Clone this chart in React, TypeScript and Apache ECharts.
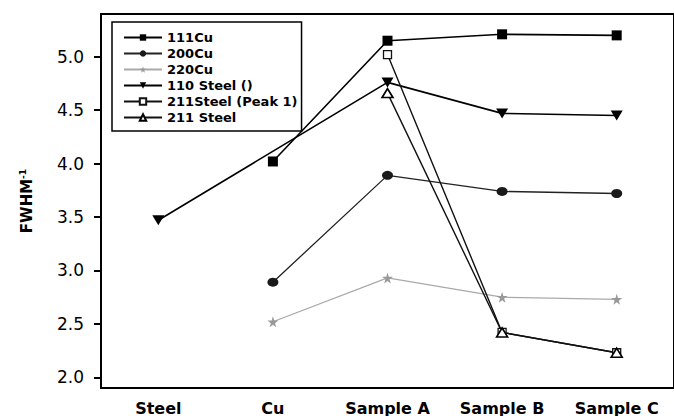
import React, { useEffect, useRef } from "react";
import * as echarts from "echarts";

const categories = ["Steel", "Cu", "Sample A", "Sample B", "Sample C"];
const cu111 = [null, 4.02, 5.15, 5.21, 5.2];
const cu200 = [null, 2.89, 3.89, 3.74, 3.72];
const cu220 = [null, 2.52, 2.93, 2.75, 2.73];
const steel110 = [3.47, null, 4.76, 4.47, 4.45];
const steel211Peak1 = [null, null, 5.02, 2.42, 2.23];
const steel211 = [null, null, 4.66, 2.42, 2.23];
const seriesNames = ["111Cu", "200Cu", "220Cu", "110 Steel ()", "211Steel (Peak 1)", "211 Steel"];
const yMajorTicks = [2.0, 2.5, 3.0, 3.5, 4.0, 4.5, 5.0];
const yMinorTicks = [2.25, 2.75, 3.25, 3.75, 4.25, 4.75, 5.25];

const STAR = "path://M50,0 L61,35 L98,35 L68,57 L79,91 L50,70 L21,91 L32,57 L2,35 L39,35 Z";
const FONT = "DejaVu Sans";

export default function App() {
  const ref = useRef<HTMLDivElement>(null);
  useEffect(() => {
    if (!ref.current) return;
    const chart = echarts.init(ref.current, null, { renderer: "svg" });
    const mk = (name: string, data: any[], o: any) => ({
      name,
      type: "line",
      data,
      connectNulls: true,
      xAxisIndex: 0,
      yAxisIndex: 0,
      ...o,
    });
    chart.setOption({
      animation: false,
      backgroundColor: "#fff",
      grid: {
        left: 101,
        top: 14,
        width: 576,
        height: 374,
        show: true,
        borderColor: "#000",
        borderWidth: 2,
        backgroundColor: "transparent",
      },
      legend: {
        orient: "vertical",
        left: 112,
        top: 22,
        padding: [9, 4, 7, 11],
        borderColor: "#000",
        borderWidth: 1.5,
        itemWidth: 38,
        itemHeight: 8,
        itemGap: 3,
        textStyle: { fontFamily: FONT, fontSize: 13, fontWeight: "bold", color: "#000", lineHeight: 13 },
        data: seriesNames,
      },
      xAxis: [
        {
          type: "category",
          data: categories,
          position: "bottom",
          axisLine: { lineStyle: { color: "#000", width: 2 } },
          axisTick: { alignWithLabel: true, length: 7, lineStyle: { color: "#000", width: 2 } },
          axisLabel: { fontFamily: FONT, fontSize: 16, fontWeight: "bold", color: "#000", margin: 12 },
        },
        {
          type: "category",
          data: categories,
          position: "bottom",
          axisLine: { show: false },
          axisTick: { alignWithLabel: false, length: 4, lineStyle: { color: "#000", width: 2 } },
          axisLabel: { show: false },
        },
      ],
      yAxis: [
        {
          type: "value",
          min: 1.9,
          max: 5.4,
          splitLine: { show: false },
          axisLine: { show: true, lineStyle: { color: "#000", width: 2 } },
          axisTick: { show: true, length: 7, customValues: yMajorTicks, lineStyle: { color: "#000", width: 2 } },
          axisLabel: {
            customValues: yMajorTicks,
            formatter: (v: number) => v.toFixed(1),
            fontFamily: FONT,
            fontSize: 17,
            color: "#000",
            margin: 17,
          },
          name: "FWHM{s|-1}",
          nameLocation: "middle",
          nameGap: 66,
          nameTextStyle: {
            fontFamily: FONT,
            fontSize: 15,
            fontWeight: "bold",
            color: "#000",
            rich: {
              s: { fontFamily: FONT, fontSize: 9, fontWeight: "bold", color: "#000", verticalAlign: "top", padding: [0, 0, 8, 0] },
            },
          },
        },
        {
          type: "value",
          min: 1.9,
          max: 5.4,
          splitLine: { show: false },
          axisLine: { show: false },
          axisTick: { show: true, length: 4, customValues: yMinorTicks, lineStyle: { color: "#000", width: 2 } },
          axisLabel: { show: false },
        },
      ],
      series: [
        mk(seriesNames[0], cu111, {
          symbol: "rect",
          symbolSize: 10,
          lineStyle: { color: "#000", width: 1.6 },
          itemStyle: { color: "#000" },
        }),
        mk(seriesNames[1], cu200, {
          symbol: "circle",
          symbolSize: [11, 9],
          lineStyle: { color: "#222", width: 1.3 },
          itemStyle: { color: "#1a1a1a" },
        }),
        mk(seriesNames[2], cu220, {
          symbol: STAR,
          symbolSize: 11,
          lineStyle: { color: "#aaa", width: 1.3 },
          itemStyle: { color: "#999" },
        }),
        mk(seriesNames[3], steel110, {
          symbol: "triangle",
          symbolRotate: 180,
          symbolSize: [12, 10],
          lineStyle: { color: "#000", width: 1.6 },
          itemStyle: { color: "#000" },
        }),
        mk(seriesNames[4], steel211Peak1, {
          symbol: "rect",
          symbolSize: 8,
          lineStyle: { color: "#111", width: 1.4 },
          itemStyle: { color: "#fff", borderColor: "#111", borderWidth: 1.3 },
        }),
        mk(seriesNames[5], steel211, {
          symbol: "triangle",
          symbolSize: [11, 9],
          lineStyle: { color: "#111", width: 1.4 },
          itemStyle: { color: "#fff", borderColor: "#000", borderWidth: 1.6 },
        }),
      ],
    });
    return () => chart.dispose();
  }, []);
  return (
    <div
      ref={ref}
      style={{ position: "absolute", left: 0, top: 0, width: 674, height: 416, background: "#fff", overflow: "hidden" }}
    />
  );
}
